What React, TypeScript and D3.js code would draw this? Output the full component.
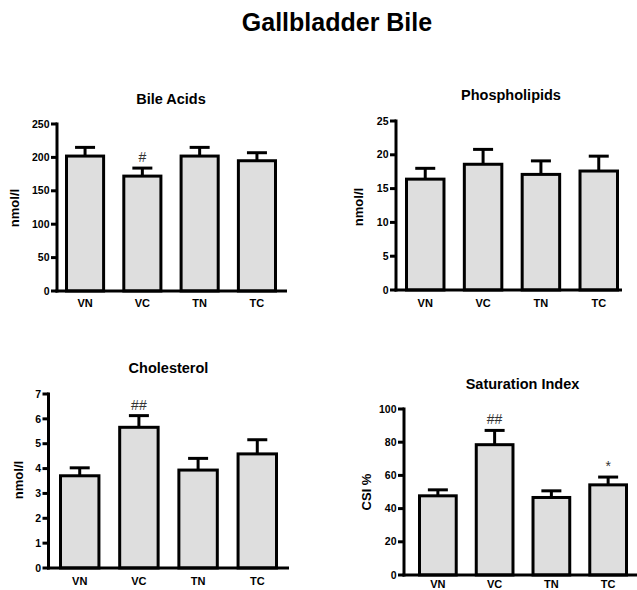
import React from "react";
import * as d3 from "d3";

const categories = ["VN", "VC", "TN", "TC"];

const bileAcidsMean = [202, 172, 202, 195];
const bileAcidsSem = [13, 12, 13, 12];
const bileAcidsMarks = ["", "#", "", ""];
const bileAcidsTicks = [0, 50, 100, 150, 200, 250];

const phospholipidsMean = [16.4, 18.6, 17.1, 17.6];
const phospholipidsSem = [1.6, 2.2, 2.0, 2.2];
const phospholipidsMarks = ["", "", "", ""];
const phospholipidsTicks = [0, 5, 10, 15, 20, 25];

const cholesterolMean = [3.71, 5.66, 3.94, 4.59];
const cholesterolSem = [0.32, 0.47, 0.47, 0.57];
const cholesterolMarks = ["", "##", "", ""];
const cholesterolTicks = [0, 1, 2, 3, 4, 5, 6, 7];

const csiMean = [47.7, 78.5, 46.7, 54.3];
const csiSem = [3.6, 8.6, 4.0, 4.7];
const csiMarks = ["", "##", "", "*"];
const csiTicks = [0, 20, 40, 60, 80, 100];

const FONT = "'Liberation Sans', Arial, Helvetica, sans-serif";

type PanelProps = {
  title: string;
  yLabel: string;
  means: number[];
  sems: number[];
  marks: string[];
  ticks: number[];
  axisX: number;
  xEnd: number;
  bandStart: number;
  bandEnd: number;
  yBottom: number;
  yTop: number;
  titleX: number;
  titleY: number;
  yLabelX: number;
  yLabelY: number;
  xLabelDy: number;
};

function Panel(p: PanelProps) {
  const yMax = p.ticks[p.ticks.length - 1];
  const y = d3.scaleLinear().domain([0, yMax]).range([p.yBottom, p.yTop]);
  const x = d3
    .scaleBand<string>()
    .domain(categories)
    .range([p.bandStart, p.bandEnd])
    .paddingInner(0.3)
    .paddingOuter(0);
  const bw = x.bandwidth();
  const capW = 20;
  return (
    <g>
      <text
        x={p.titleX}
        y={p.titleY}
        textAnchor="middle"
        fontFamily={FONT}
        fontWeight="bold"
        fontSize={14.5}
        fill="#000"
      >
        {p.title}
      </text>
      <text
        transform={`translate(${p.yLabelX},${p.yLabelY}) rotate(-90)`}
        textAnchor="middle"
        fontFamily={FONT}
        fontWeight="bold"
        fontSize={13}
        fill="#000"
      >
        {p.yLabel}
      </text>
      {categories.map((c, i) => {
        const x0 = (x(c) as number) + 1.5;
        const w = bw - 3;
        const top = y(p.means[i]);
        const errTop = y(p.means[i] + p.sems[i]);
        const cx = (x(c) as number) + bw / 2;
        return (
          <g key={c}>
            <line x1={cx} x2={cx} y1={top} y2={errTop} stroke="#000" strokeWidth={3} />
            <line
              x1={cx - capW / 2}
              x2={cx + capW / 2}
              y1={errTop}
              y2={errTop}
              stroke="#000"
              strokeWidth={3}
            />
            <rect
              x={x0}
              y={top}
              width={w}
              height={p.yBottom - top}
              fill="#dedede"
              stroke="#000"
              strokeWidth={3}
            />
            {p.marks[i] ? (
              <text
                x={cx}
                y={errTop - 6}
                textAnchor="middle"
                fontFamily={FONT}
                fontSize={14}
                fill="#333"
              >
                {p.marks[i]}
              </text>
            ) : null}
            <text
              x={cx}
              y={p.yBottom + p.xLabelDy}
              textAnchor="middle"
              fontFamily={FONT}
              fontWeight="bold"
              fontSize={11}
              fill="#000"
            >
              {c}
            </text>
          </g>
        );
      })}
      {p.ticks.map((t) => (
        <g key={t}>
          <line
            x1={p.axisX - 6}
            x2={p.axisX}
            y1={y(t)}
            y2={y(t)}
            stroke="#000"
            strokeWidth={3}
          />
          <text
            x={p.axisX - 7.5}
            y={y(t)}
            dy="0.35em"
            textAnchor="end"
            fontFamily={FONT}
            fontWeight="bold"
            fontSize={10.5}
            fill="#000"
          >
            {t}
          </text>
        </g>
      ))}
      <line
        x1={p.axisX}
        x2={p.axisX}
        y1={y(yMax) - 1.5}
        y2={p.yBottom + 1.5}
        stroke="#000"
        strokeWidth={3}
      />
      <line
        x1={p.axisX - 1.5}
        x2={p.xEnd}
        y1={p.yBottom}
        y2={p.yBottom}
        stroke="#000"
        strokeWidth={3}
      />
    </g>
  );
}

export default function App() {
  return (
    <svg
      width={637}
      height={590}
      style={{ position: "absolute", left: 0, top: 0, background: "#fff" }}
    >
      <rect width={637} height={590} fill="#fff" />
      <text
        x={337}
        y={31}
        textAnchor="middle"
        fontFamily={FONT}
        fontWeight="bold"
        fontSize={25}
        fill="#000"
      >
        Gallbladder Bile
      </text>
      <Panel
        title="Bile Acids"
        yLabel="nmol/l"
        means={bileAcidsMean}
        sems={bileAcidsSem}
        marks={bileAcidsMarks}
        ticks={bileAcidsTicks}
        axisX={57}
        xEnd={287}
        bandStart={65}
        bandEnd={277}
        yBottom={291}
        yTop={124}
        titleX={171}
        titleY={104}
        yLabelX={18.5}
        yLabelY={208}
        xLabelDy={15.5}
      />
      <Panel
        title="Phospholipids"
        yLabel="nmol/l"
        means={phospholipidsMean}
        sems={phospholipidsSem}
        marks={phospholipidsMarks}
        ticks={phospholipidsTicks}
        axisX={396}
        xEnd={622}
        bandStart={405}
        bandEnd={619}
        yBottom={290}
        yTop={121}
        titleX={511}
        titleY={99.5}
        yLabelX={362.5}
        yLabelY={207}
        xLabelDy={16.5}
      />
      <Panel
        title="Cholesterol"
        yLabel="nmol/l"
        means={cholesterolMean}
        sems={cholesterolSem}
        marks={cholesterolMarks}
        ticks={cholesterolTicks}
        axisX={48.5}
        xEnd={289}
        bandStart={59}
        bandEnd={278}
        yBottom={568}
        yTop={394}
        titleX={168.5}
        titleY={372.5}
        yLabelX={23}
        yLabelY={480}
        xLabelDy={17}
      />
      <Panel
        title="Saturation Index"
        yLabel="CSI %"
        means={csiMean}
        sems={csiSem}
        marks={csiMarks}
        ticks={csiTicks}
        axisX={404}
        xEnd={640}
        bandStart={418}
        bandEnd={628}
        yBottom={575}
        yTop={409}
        titleX={522.5}
        titleY={389}
        yLabelX={371}
        yLabelY={492}
        xLabelDy={12.5}
      />
    </svg>
  );
}
